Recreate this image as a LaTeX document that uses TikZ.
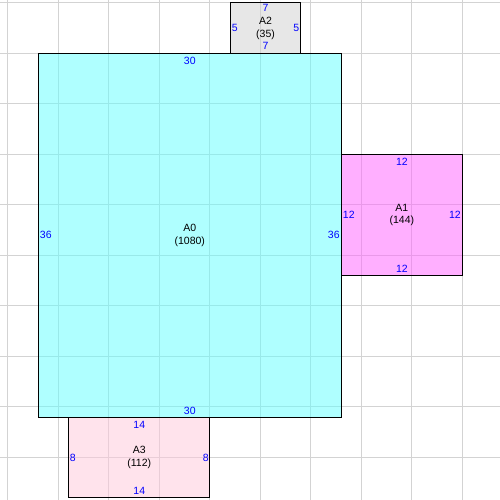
\documentclass[tikz,border=0pt]{standalone}
\usepackage{fontspec}
\setmainfont{Liberation Sans}
\definecolor{gridc}{RGB}{211,211,211}
\definecolor{cA0}{RGB}{97,255,255}
\definecolor{cA1}{RGB}{255,97,255}
\definecolor{cA2}{RGB}{209,209,209}
\definecolor{cA3}{RGB}{255,201,219}
\definecolor{numc}{RGB}{0,0,255}
\tikzset{
  gridline/.style={draw=gridc, line width=1pt},
  roombox/.style={draw=black, line width=1pt, fill opacity=0.5},
  num/.style={text=numc, font=\fontsize{10.5}{12}\selectfont, inner sep=0pt},
  roomname/.style={align=center, text=black, font=\fontsize{10.5}{12.5}\selectfont, inner sep=0pt}
}
\begin{document}
\begin{tikzpicture}[x=10.1pt,y=-10.1pt]
\useasboundingbox (-0.792,-0.297) rectangle (48.71,49.21);
\fill[white] (-0.792,-0.297) rectangle (48.71,49.21);
% grid
\foreach \u in {0,5,...,45} {
  \draw[gridline] (\u,-0.297) -- (\u,49.21);
  \draw[gridline] (-0.792,\u) -- (48.71,\u);
}
% rooms
\fill[cA0, fill opacity=0.5] (3,5) rectangle (33,41);
\fill[cA2, fill opacity=0.5] (22,0) rectangle (29,5);
\fill[cA1, fill opacity=0.5] (33,15) rectangle (45,27);
\fill[cA3, fill opacity=0.5] (6,41) rectangle (20,49);
\draw[line width=1pt] (3,5) rectangle (33,41);
\draw[line width=1pt] (22,0) rectangle (29,5);
\draw[line width=1pt] (33,15) rectangle (45,27);
\draw[line width=1pt] (6,41) rectangle (20,49);
% names
\node[roomname] (nA0) at (18,23) {A0\\(1080)};
\node[roomname] (nA1) at (39,21) {A1\\(144)};
\node[roomname] (nA2) at (25.5,2.5) {A2\\(35)};
\node[roomname] (nA3) at (13,45) {A3\\(112)};
% A0 dims
\node[num, yshift=-7.5pt] (A0t) at (18,5) {30};
\node[num, yshift=6.5pt] (A0b) at (18,41) {30};
\node[num, anchor=west, xshift=1.5pt] (A0l) at (3,23) {36};
\node[num, anchor=east, xshift=-1.5pt] (A0r) at (33,23) {36};
% A1 dims
\node[num, yshift=-7pt] (A1t) at (39,15) {12};
\node[num, yshift=7pt] (A1b) at (39,27) {12};
\node[num, anchor=west, xshift=1.5pt] (A1l) at (33,21) {12};
\node[num, anchor=east, xshift=-1.5pt] (A1r) at (45,21) {12};
% A2 dims
\node[num, yshift=-5pt] (A2t) at (25.5,0) {7};
\node[num, yshift=7.5pt] (A2b) at (25.5,5) {7};
\node[num, anchor=west, xshift=1.5pt] (A2l) at (22,2.5) {5};
\node[num, anchor=east, xshift=-1.5pt] (A2r) at (29,2.5) {5};
% A3 dims
\node[num, yshift=-8pt] (A3t) at (13,41) {14};
\node[num, yshift=6.5pt] (A3b) at (13,49) {14};
\node[num, anchor=west, xshift=1pt] (A3l) at (6,45) {8};
\node[num, anchor=east, xshift=-1pt] (A3r) at (20,45) {8};
\end{tikzpicture}
\end{document}
